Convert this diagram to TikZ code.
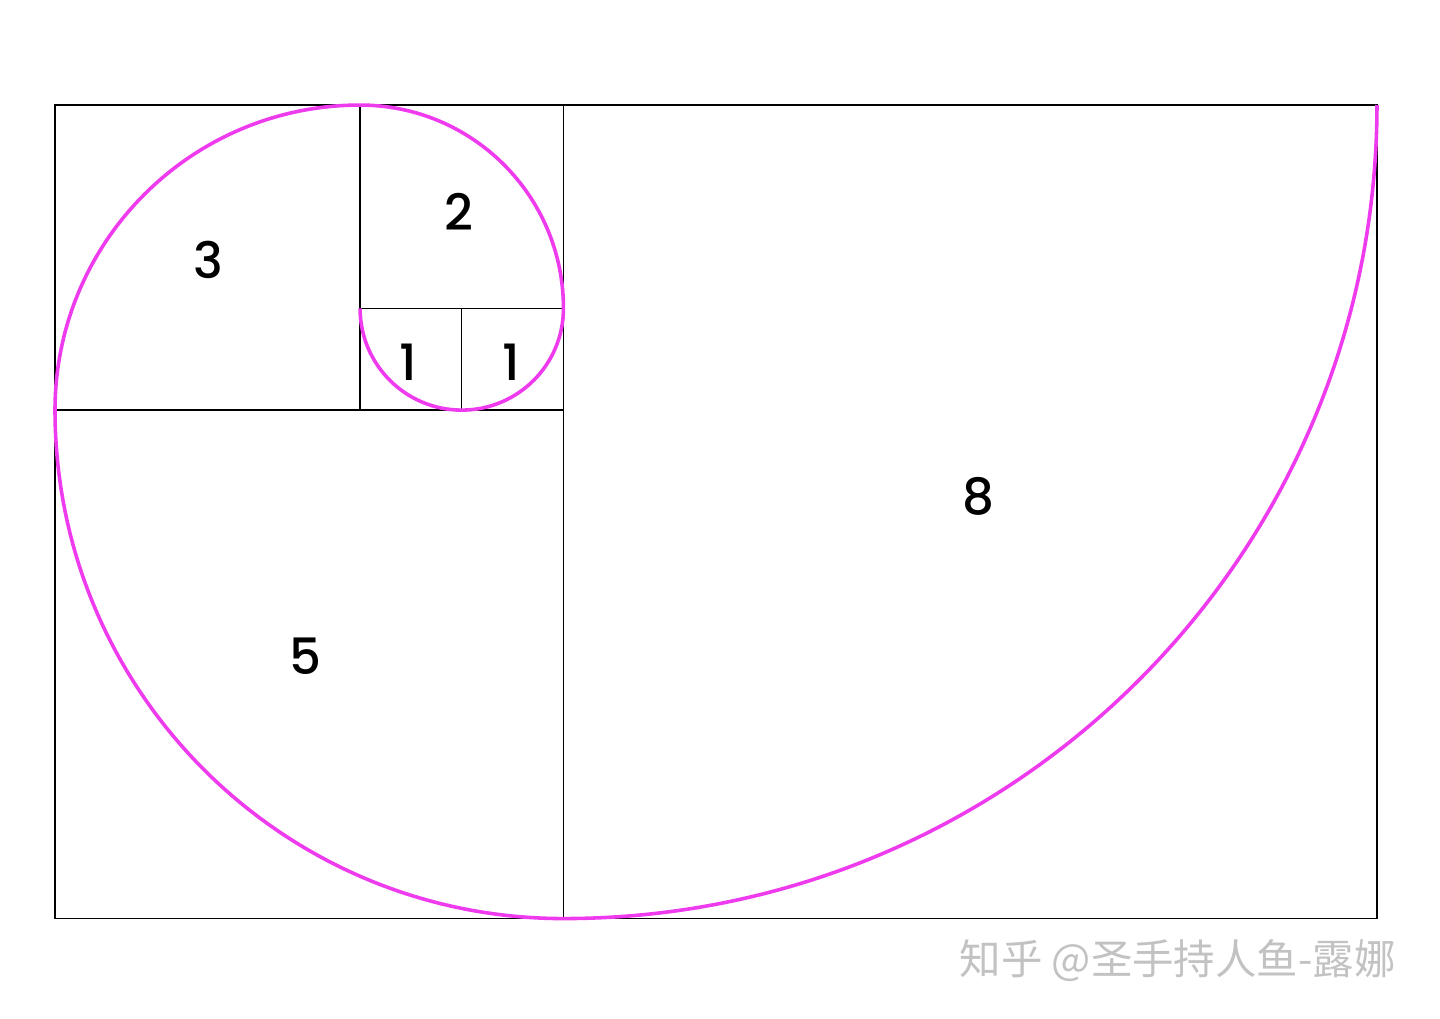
\documentclass[tikz,border=0pt]{standalone}
\usepackage{fontspec}
\setmainfont{Poppins}[UprightFont=* Medium]
\newfontfamily\cjkfont{Noto Sans CJK SC}
\definecolor{spiral}{HTML}{EE3BEE}
\definecolor{wm}{HTML}{C2C2C2}
\begin{document}
\begin{tikzpicture}[
  sq/.style={draw=black, line width=0.4pt},
  spir/.style={draw=spiral, line width=1pt},
  num/.style={font=\fontsize{14}{16}\selectfont, text=black, inner sep=0pt},
  wmark/.style={font=\cjkfont\fontsize{11.6}{13}\selectfont, text=wm, inner sep=0pt}
]
\useasboundingbox (-0.541,-0.978) rectangle (13.62,9.033);
% squares
\draw[sq] (0,0) rectangle (13,8);
\draw[sq] (5,0) -- (5,8);
\draw[sq] (0,5) -- (5,5);
\draw[sq] (3,5) -- (3,8);
\draw[sq] (3,6) -- (5,6);
\draw[sq] (4,5) -- (4,6);
% spiral
\draw[spir] (13,8) arc[start angle=0, end angle=-90, radius=8]
  arc[start angle=-90, end angle=-180, radius=5]
  arc[start angle=180, end angle=90, radius=3]
  arc[start angle=90, end angle=0, radius=2]
  arc[start angle=0, end angle=-90, radius=1]
  arc[start angle=-90, end angle=-180, radius=1];
% labels
\node[num] (n8) at (9.08,4.155) {8};
\node[num] (n5) at (2.46,2.58) {5};
\node[num] (n3) at (1.505,6.475) {3};
\node[num] (n2) at (3.97,6.95) {2};
\node[num] (n1a) at (3.47,5.475) {1};
\node[num] (n1b) at (4.49,5.475) {1};
% watermark
\node[wmark] (wmk) at (11.04,-0.411) {知乎 @圣手持人鱼-露娜};
\end{tikzpicture}
\end{document}
